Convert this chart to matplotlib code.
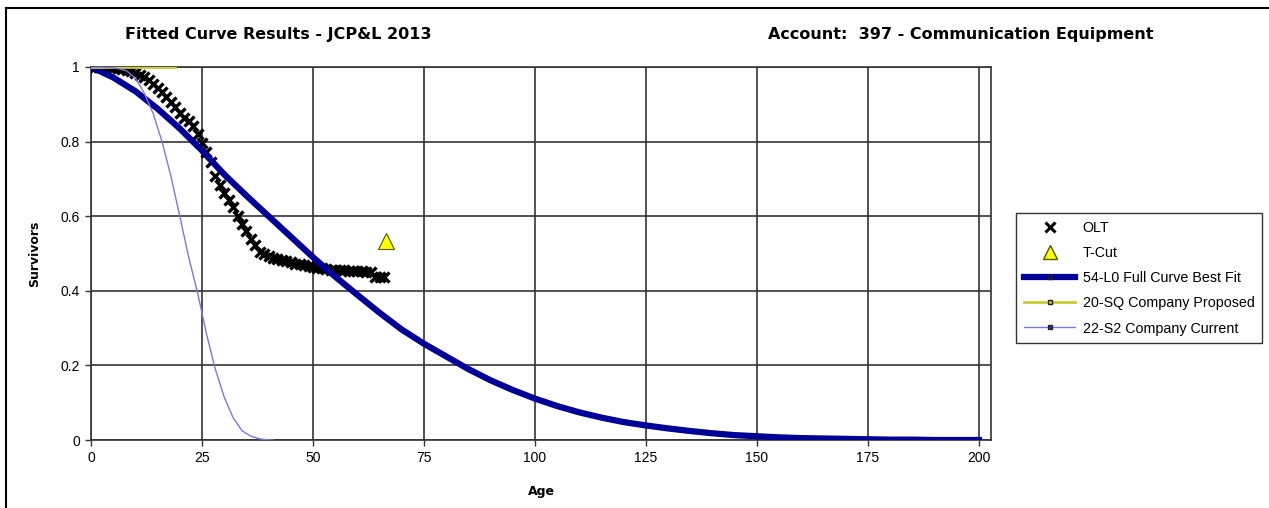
import matplotlib.pyplot as plt
from matplotlib.lines import Line2D

W, H = 1269, 508

# OLT - observed life table, one point per year of age
olt_age = list(range(0, 67))
olt_surv = [1.000, 1.000, 1.000, 1.000, 0.999, 0.998, 0.997, 0.995, 0.992, 0.988,
            0.984, 0.978, 0.972, 0.964, 0.955, 0.945, 0.933, 0.920, 0.907, 0.892,
            0.877, 0.862, 0.856, 0.842, 0.820, 0.797, 0.773, 0.745, 0.708, 0.684,
            0.662, 0.643, 0.625, 0.600, 0.580, 0.560, 0.540, 0.522, 0.505, 0.498,
            0.492, 0.488, 0.485, 0.482, 0.479, 0.476, 0.473, 0.471, 0.469, 0.466,
            0.464, 0.462, 0.460, 0.458, 0.457, 0.456, 0.455, 0.455, 0.454, 0.453,
            0.452, 0.452, 0.451, 0.450, 0.437, 0.437, 0.436]

# T-Cut point
tcut_age = [66.4]
tcut_surv = [0.534]

# 54-L0 full curve best fit
fit_age = list(range(0, 201, 5))
fit_surv = [1.000, 0.972, 0.935, 0.888, 0.835, 0.776, 0.712, 0.655, 0.600, 0.545,
            0.490, 0.438, 0.389, 0.341, 0.296, 0.258, 0.224, 0.190, 0.160, 0.134,
            0.111, 0.091, 0.074, 0.060, 0.048, 0.039, 0.031, 0.024, 0.018, 0.013,
            0.010, 0.007, 0.005, 0.004, 0.003, 0.002, 0.001, 0.001, 0.000, 0.000,
            0.000]

# 20-SQ company proposed
sq_age = [0, 19]
sq_surv = [1.0, 1.0]

# 22-S2 company current
s2_age = [0, 2, 4, 6, 8, 10, 12, 14, 16, 18, 20, 22, 24, 26, 28, 30, 32, 34, 36, 38, 40, 41]
s2_surv = [1.000, 1.000, 0.999, 0.996, 0.990, 0.970, 0.930, 0.875, 0.800, 0.707,
           0.600, 0.490, 0.395, 0.285, 0.190, 0.115, 0.060, 0.025, 0.010, 0.003,
           0.000, 0.000]

xticks = [0, 25, 50, 75, 100, 125, 150, 175, 200]
yticks = [0, 0.2, 0.4, 0.6, 0.8, 1.0]
ytick_labels = ["0", "0.2", "0.4", "0.6", "0.8", "1"]

navy = "#000099"
yellow = "#cccc33"
lavender = "#7878e6"
grid_col = "#333333"

fig = plt.figure(figsize=(W / 100, H / 100), dpi=100)
ax = fig.add_axes([91 / W, 68 / H, 900 / W, 373 / H])

ax.plot(olt_age, olt_surv, ls="none", marker="x", color="black", ms=7, mew=2.4, zorder=3)
ax.plot(tcut_age, tcut_surv, ls="none", marker="^", mfc="#ffff00", mec="#555500",
        mew=0.8, ms=11, zorder=4)
ax.plot(fit_age, fit_surv, color=navy, lw=4.5, zorder=5)
ax.plot(sq_age, sq_surv, color=yellow, lw=2, zorder=6)
ax.plot(s2_age, s2_surv, color=lavender, lw=1, zorder=7)

ax.set_xlim(0, 202.7)
ax.set_ylim(0, 1)
ax.set_xticks(xticks)
ax.set_yticks(yticks)
ax.set_yticklabels(ytick_labels)
ax.grid(True, color=grid_col, lw=1.2)
ax.set_axisbelow(True)
for s in ax.spines.values():
    s.set_color(grid_col)
    s.set_linewidth(1.2)
ax.tick_params(direction="out", length=4, width=1, color=grid_col, labelsize=10, pad=4)
for lab in ax.get_xticklabels() + ax.get_yticklabels():
    lab.set_family("Liberation Sans")

fig.text(541 / W, 1 - 491 / H, "Age", ha="center", va="center",
         fontsize=9, fontweight="bold")
fig.text(35 / W, 1 - 254 / H, "Survivors", ha="center", va="center", rotation=90,
         fontsize=9, fontweight="bold")
fig.text(125 / W, 1 - 34 / H, "Fitted Curve Results - JCP&L 2013", ha="left", va="center",
         fontsize=11.5, fontweight="bold")
fig.text(768 / W, 1 - 34 / H, "Account:  397 - Communication Equipment", ha="left",
         va="center", fontsize=11.5, fontweight="bold")

# outer frame (only left and top edges are inside the picture)
fig.add_artist(Line2D([6 / W, 6 / W], [0, 1 - 8 / H], transform=fig.transFigure,
                      color="black", lw=1.5))
fig.add_artist(Line2D([6 / W, 1], [1 - 8 / H, 1 - 8 / H], transform=fig.transFigure,
                      color="black", lw=1.5))

handles = [
    Line2D([], [], ls="none", marker="x", color="black", ms=7, mew=2.2),
    Line2D([], [], ls="none", marker="^", mfc="#ffff00", mec="#555500", ms=10),
    Line2D([], [], color=navy, lw=4.5, marker="s", ms=3.5, mfc=navy, mec="#222222"),
    Line2D([], [], color=yellow, lw=2, marker="s", ms=3.5, mfc=yellow, mec="#222222"),
    Line2D([], [], color=lavender, lw=1, marker="s", ms=3.5, mfc="#333399", mec="#222222"),
]
labels = ["OLT", "T-Cut", "54-L0 Full Curve Best Fit", "20-SQ Company Proposed",
          "22-S2 Company Current"]
leg = fig.legend(handles, labels, loc="upper left", bbox_to_anchor=(1016 / W, 1 - 213 / H),
                 numpoints=1, frameon=True, fancybox=False, edgecolor="black",
                 borderaxespad=0, borderpad=0.55, handlelength=3.6, handletextpad=0.5,
                 labelspacing=0.78, prop={"family": "Liberation Sans", "size": 10.3})
leg.get_frame().set_linewidth(1)

fig.savefig("out.png", dpi=100)
